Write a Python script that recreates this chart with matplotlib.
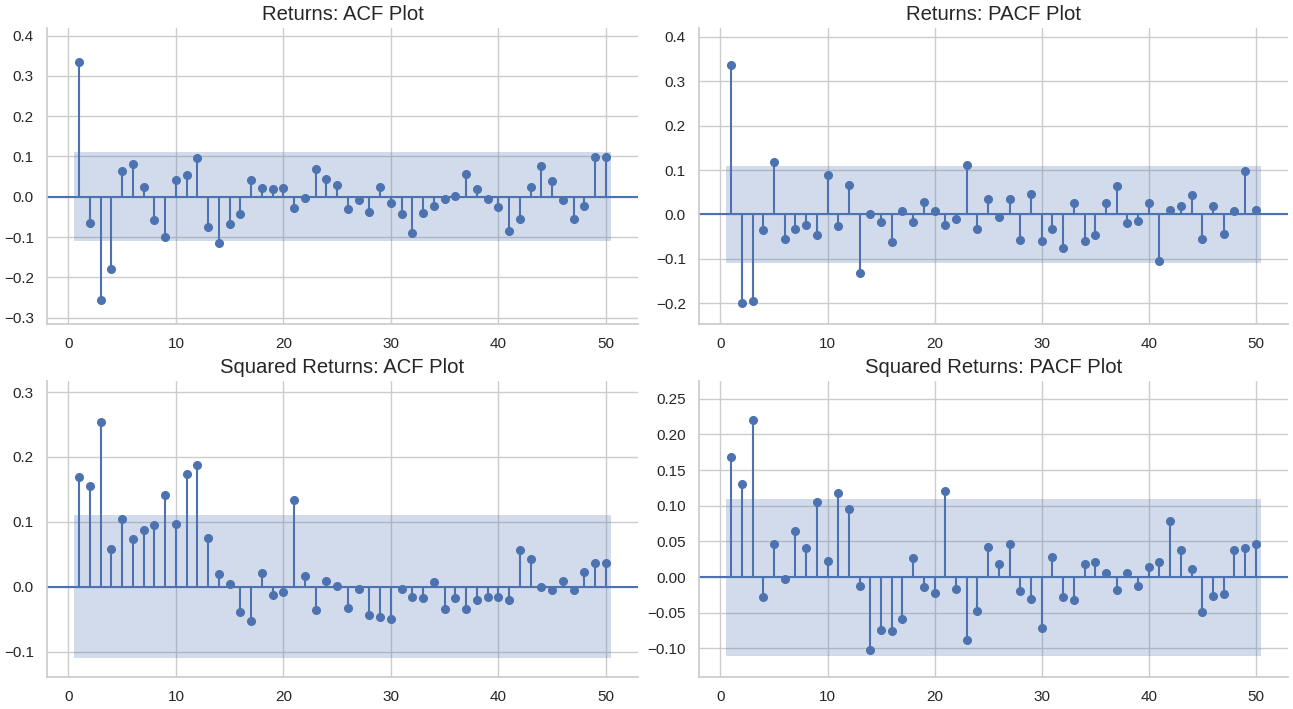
"""
ACF / PACF of returns and squared returns (50 lags) with a 95% band.
"""
import numpy as np
import matplotlib
matplotlib.use("Agg")
import matplotlib.pyplot as plt
import seaborn as sns

sns.set_theme(style="whitegrid")
plt.rcParams["font.family"] = ["Liberation Sans", "DejaVu Sans"]

lags = np.arange(1, 51)
conf = 0.11  # approx 1.96 / sqrt(n)

# values
ret_acf = [0.335, -0.064, -0.257, -0.179, 0.064, 0.082, 0.023, -0.057, -0.099, 0.042,
           0.053, 0.095, -0.076, -0.115, -0.068, -0.043, 0.042, 0.021, 0.018, 0.021,
           -0.027, -0.004, 0.070, 0.044, 0.028, -0.030, -0.007, -0.039, 0.023, -0.016,
           -0.043, -0.091, -0.041, -0.023, -0.005, 0.001, 0.057, 0.018, -0.005, -0.025,
           -0.085, -0.055, 0.023, 0.076, 0.039, -0.007, -0.055, -0.022, 0.099, 0.099]

ret_pacf = [0.336, -0.199, -0.195, -0.035, 0.119, -0.056, -0.033, -0.025, -0.046, 0.089,
            -0.026, 0.067, -0.132, 0.001, -0.018, -0.062, 0.008, -0.017, 0.029, 0.008,
            -0.025, -0.010, 0.112, -0.033, 0.034, -0.007, 0.034, -0.057, 0.047, -0.061,
            -0.034, -0.076, 0.026, -0.059, -0.047, 0.026, 0.063, -0.019, -0.016, 0.025,
            -0.104, 0.009, 0.019, 0.043, -0.055, 0.019, -0.045, 0.007, 0.098, 0.011]

sq_acf = [0.169, 0.155, 0.254, 0.058, 0.105, 0.074, 0.088, 0.095, 0.141, 0.097,
          0.173, 0.187, 0.075, 0.019, 0.005, -0.039, -0.053, 0.021, -0.013, -0.008,
          0.134, 0.017, -0.036, 0.009, 0.001, -0.033, -0.004, -0.043, -0.047, -0.049,
          -0.004, -0.015, -0.018, 0.008, -0.035, -0.018, -0.035, -0.021, -0.015, -0.016,
          -0.021, 0.057, 0.043, 0.000, -0.005, 0.009, -0.005, 0.023, 0.037, 0.036]

sq_pacf = [0.169, 0.131, 0.220, -0.028, 0.046, -0.003, 0.064, 0.041, 0.106, 0.022,
           0.118, 0.096, -0.013, -0.102, -0.074, -0.075, -0.058, 0.027, -0.014, -0.022,
           0.121, -0.016, -0.088, -0.047, 0.042, 0.018, 0.046, -0.020, -0.031, -0.072,
           0.028, -0.028, -0.032, 0.018, 0.021, 0.006, -0.018, 0.006, -0.013, 0.014,
           0.021, 0.079, 0.038, 0.011, -0.049, -0.026, -0.023, 0.038, 0.041, 0.047]

titles = ["Returns: ACF Plot", "Returns: PACF Plot",
          "Squared Returns: ACF Plot", "Squared Returns: PACF Plot"]
series = [ret_acf, ret_pacf, sq_acf, sq_pacf]
ylims = [(-0.316, 0.419), (-0.247, 0.42), (-0.139, 0.317), (-0.14, 0.275)]

W, H = 1293, 709
rects_px = [(47, 28, 638, 324), (699, 28, 1288, 324),
            (47, 381, 638, 677), (699, 381, 1288, 677)]

color = "#4c72b0"
fig = plt.figure(figsize=(W / 100, H / 100), dpi=100)

for (x0, y0, x1, y1), vals, title, yl in zip(rects_px, series, titles, ylims):
    ax = fig.add_axes([x0 / W, 1 - y1 / H, (x1 - x0) / W, (y1 - y0) / H])
    vals = np.array(vals)
    band_x = lags.astype(float).copy()
    band_x[0] -= 0.5
    band_x[-1] += 0.5
    ax.fill_between(band_x, -conf, conf, color=color, alpha=0.25, lw=0)
    ax.axhline(0, color=color, lw=1.5)
    ax.vlines(lags, 0, vals, color=color, lw=1.5)
    ax.plot(lags, vals, "o", color=color, markersize=5.5)
    ax.set_xlim(-2, 53)
    ax.set_ylim(*yl)
    ax.set_xticks([0, 10, 20, 30, 40, 50])
    ax.tick_params(labelsize=11)
    ax.set_title(title, fontsize=14.6)
    for s in ("top", "right"):
        ax.spines[s].set_visible(False)

fig.savefig("out.png", dpi=100)
